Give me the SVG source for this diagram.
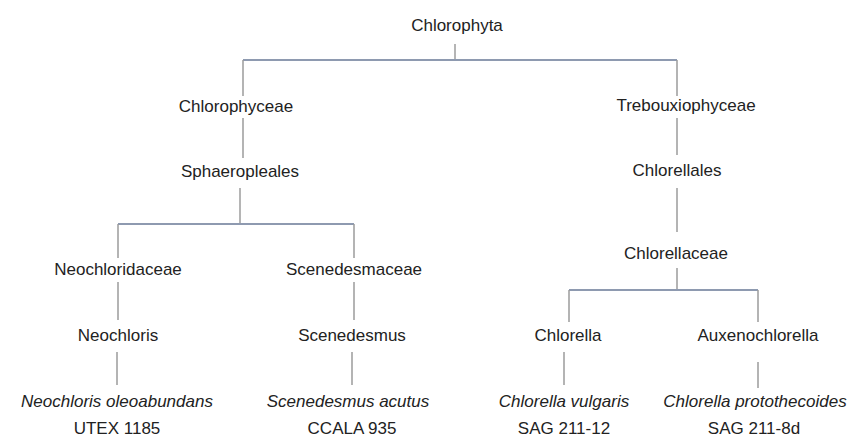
<svg xmlns="http://www.w3.org/2000/svg" width="850" height="439" viewBox="0 0 850 439">
<style>
text{font-family:"Liberation Sans",Arial,sans-serif;font-size:17px;fill:#222;text-anchor:middle}
.sp{font-style:italic}
.h{stroke:#8e9ab0;stroke-width:2;fill:none}
.v{stroke:#9c9c9c;stroke-width:1.5;fill:none}
</style>
<rect width="850" height="439" fill="#fff"/>
<g id="connectors">
<path class="v" d="M455 44V60"/>
<path class="h" d="M243 60H677"/>
<path class="v" d="M243 60V96M677 60V96"/>
<path class="v" d="M243 118V158M677 118V155"/>
<path class="v" d="M240 188V224"/>
<path class="h" d="M118 224H354"/>
<path class="v" d="M118 224V258M354 224V258"/>
<path class="v" d="M677 188V232M677 268V290"/>
<path class="h" d="M569 290H758"/>
<path class="v" d="M569 290V322M758 290V322"/>
<path class="v" d="M118 282V320M354 282V320"/>
<path class="v" d="M117 352V385M352 352V385M564 352V385M758 362V388"/>
</g>
<g id="chlorophyta"><text x="457" y="31">Chlorophyta</text></g>
<g id="chlorophyceae"><text x="236" y="112">Chlorophyceae</text></g>
<g id="trebouxiophyceae"><text x="686" y="111">Trebouxiophyceae</text></g>
<g id="sphaeropleales"><text x="240" y="177">Sphaeropleales</text></g>
<g id="chlorellales"><text x="677" y="176">Chlorellales</text></g>
<g id="chlorellaceae"><text x="676" y="259">Chlorellaceae</text></g>
<g id="neochloridaceae"><text x="118" y="275">Neochloridaceae</text></g>
<g id="scenedesmaceae"><text x="354" y="275">Scenedesmaceae</text></g>
<g id="neochloris"><text x="118" y="341">Neochloris</text></g>
<g id="scenedesmus"><text x="352" y="341">Scenedesmus</text></g>
<g id="chlorella"><text x="568" y="341">Chlorella</text></g>
<g id="auxenochlorella"><text x="758" y="341">Auxenochlorella</text></g>
<g id="n-oleoabundans"><text class="sp" x="117" y="407">Neochloris oleoabundans</text><text x="117" y="434">UTEX 1185</text></g>
<g id="s-acutus"><text class="sp" x="348" y="407">Scenedesmus acutus</text><text x="352" y="434">CCALA 935</text></g>
<g id="c-vulgaris"><text class="sp" x="564" y="407">Chlorella vulgaris</text><text x="564" y="434">SAG 211-12</text></g>
<g id="c-protothecoides"><text class="sp" x="755" y="407">Chlorella protothecoides</text><text x="754" y="434">SAG 211-8d</text></g>
</svg>
